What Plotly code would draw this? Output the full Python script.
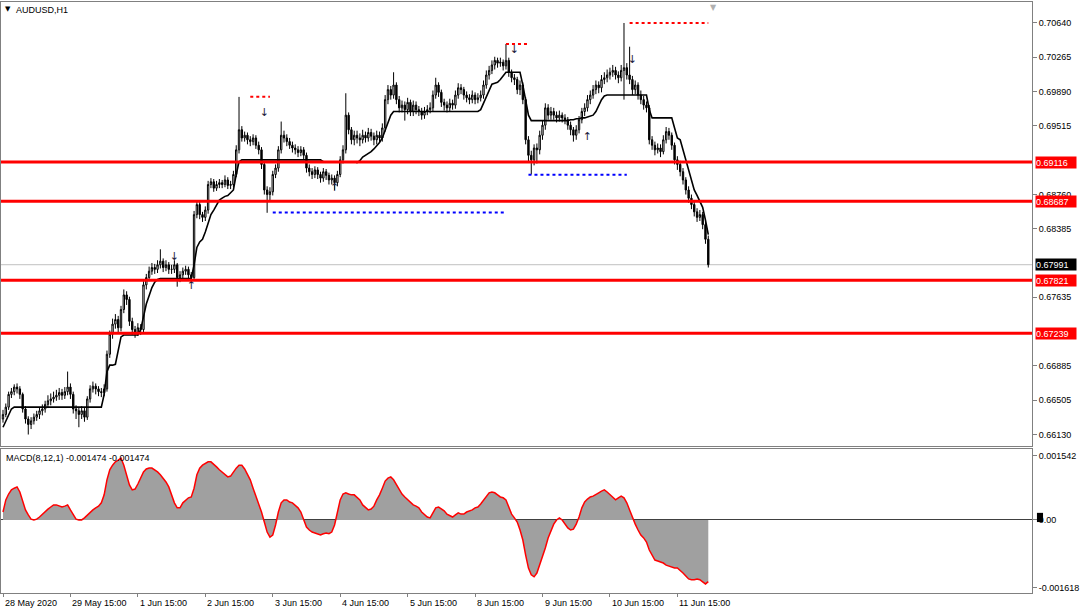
import plotly.graph_objects as go

# ---------------- data (AUDUSD H1) ----------------
tick_bars = [0, 24, 48, 72, 96, 120, 144, 168, 192, 216, 240]
tick_labels = ["28 May 2020", "29 May 15:00", "1 Jun 15:00", "2 Jun 15:00", "3 Jun 15:00",
               "4 Jun 15:00", "5 Jun 15:00", "8 Jun 15:00", "9 Jun 15:00", "10 Jun 15:00",
               "11 Jun 15:00"]

opens = [
0.6630,0.6635,0.6643,0.6657,0.6660,0.6665,0.6663,0.6657,0.6641,0.6630,
0.6624,0.6628,0.6632,0.6635,0.6639,0.6641,0.6646,0.6650,0.6652,0.6654,
0.6656,0.6659,0.6656,0.6660,0.6665,0.6657,0.6641,0.6639,0.6635,0.6639,
0.6632,0.6652,0.6663,0.6666,0.6663,0.6660,0.6659,0.6663,0.6701,0.6723,
0.6734,0.6739,0.6730,0.6750,0.6766,0.6761,0.6737,0.6728,0.6725,0.6730,
0.6728,0.6777,0.6785,0.6792,0.6796,0.6794,0.6799,0.6803,0.6796,0.6799,
0.6794,0.6794,0.6799,0.6785,0.6788,0.6792,0.6794,0.6788,0.6785,0.6854,
0.6865,0.6854,0.6851,0.6859,0.6887,0.6890,0.6883,0.6887,0.6889,0.6887,
0.6892,0.6886,0.6887,0.6898,0.6925,0.6947,0.6938,0.6941,0.6936,0.6934,
0.6938,0.6930,0.6925,0.6909,0.6881,0.6876,0.6879,0.6898,0.6905,0.6925,
0.6941,0.6938,0.6934,0.6930,0.6927,0.6925,0.6922,0.6925,0.6919,0.6905,
0.6901,0.6898,0.6903,0.6898,0.6894,0.6901,0.6897,0.6892,0.6894,0.6889,
0.6898,0.6914,0.6925,0.6963,0.6947,0.6936,0.6941,0.6938,0.6936,0.6941,
0.6938,0.6944,0.6940,0.6936,0.6941,0.6938,0.6949,0.6980,0.6991,0.6985,
0.6996,0.6980,0.6971,0.6974,0.6969,0.6977,0.6967,0.6974,0.6969,0.6967,
0.6963,0.6967,0.6969,0.6971,0.6985,0.6996,0.6988,0.6977,0.6974,0.6971,
0.6976,0.6974,0.6985,0.6993,0.6991,0.6985,0.6982,0.6980,0.6985,0.6980,
0.6982,0.6985,0.6996,0.7007,0.7012,0.7018,0.7023,0.7020,0.7021,0.7017,
0.7023,0.7010,0.7004,0.7002,0.6991,0.6996,0.6980,0.6936,0.6919,0.6914,
0.6927,0.6925,0.6941,0.6952,0.6971,0.6963,0.6967,0.6963,0.6960,0.6963,
0.6960,0.6958,0.6952,0.6947,0.6941,0.6947,0.6958,0.6967,0.6971,0.6980,
0.6985,0.6991,0.6996,0.6993,0.7002,0.7004,0.7007,0.7010,0.7012,0.7007,
0.7004,0.7012,0.7015,0.7007,0.7002,0.6991,0.6996,0.6985,0.6980,0.6974,
0.6971,0.6936,0.6930,0.6925,0.6927,0.6923,0.6936,0.6945,0.6941,0.6930,
0.6914,0.6909,0.6901,0.6892,0.6881,0.6872,0.6865,0.6857,0.6851,0.6854,
0.6843,0.6827]

highs = [
0.6640,0.6647,0.6660,0.6664,0.6668,0.6669,0.6666,0.6659,0.6644,0.6633,
0.6632,0.6636,0.6639,0.6643,0.6646,0.6650,0.6656,0.6658,0.6660,0.6662,
0.6664,0.6663,0.6665,0.6682,0.6669,0.6660,0.6645,0.6643,0.6644,0.6642,
0.6655,0.6667,0.6671,0.6669,0.6666,0.6664,0.6668,0.6705,0.6727,0.6740,
0.6745,0.6743,0.6754,0.6772,0.6770,0.6764,0.6741,0.6732,0.6735,0.6734,
0.6781,0.6789,0.6797,0.6801,0.6800,0.6804,0.6816,0.6806,0.6804,0.6802,
0.6799,0.6804,0.6801,0.6792,0.6796,0.6798,0.6797,0.6791,0.6858,0.6869,
0.6868,0.6857,0.6863,0.6891,0.6894,0.6893,0.6891,0.6893,0.6892,0.6897,
0.6895,0.6891,0.6902,0.6930,0.6983,0.6951,0.6945,0.6944,0.6940,0.6942,
0.6941,0.6934,0.6928,0.6912,0.6885,0.6884,0.6902,0.6909,0.6929,0.6956,
0.6946,0.6942,0.6938,0.6934,0.6931,0.6929,0.6929,0.6928,0.6922,0.6909,
0.6905,0.6907,0.6906,0.6901,0.6905,0.6904,0.6900,0.6898,0.6897,0.6902,
0.6918,0.6930,0.6987,0.6966,0.6950,0.6946,0.6946,0.6943,0.6947,0.6945,
0.6949,0.6948,0.6944,0.6946,0.6945,0.6954,0.6985,0.6996,0.6995,0.7010,
0.6999,0.6984,0.6979,0.6978,0.6982,0.6980,0.6979,0.6978,0.6973,0.6971,
0.6972,0.6974,0.6977,0.6990,0.7004,0.6999,0.6991,0.6981,0.6978,0.6981,
0.6980,0.6990,0.6998,0.6997,0.6994,0.6989,0.6986,0.6990,0.6988,0.6987,
0.6990,0.7001,0.7012,0.7017,0.7023,0.7027,0.7026,0.7026,0.7024,0.7041,
0.7026,0.7013,0.7008,0.7005,0.7001,0.6999,0.6983,0.6940,0.6924,0.6931,
0.6932,0.6946,0.6957,0.6976,0.6975,0.6972,0.6971,0.6967,0.6968,0.6966,
0.6964,0.6961,0.6956,0.6950,0.6952,0.6962,0.6971,0.6976,0.6985,0.6990,
0.6996,0.7001,0.7000,0.7007,0.7010,0.7013,0.7015,0.7018,0.7016,0.7011,
0.7018,0.7064,0.7020,0.7038,0.7006,0.7001,0.6999,0.6990,0.6984,0.6978,
0.6974,0.6940,0.6934,0.6932,0.6931,0.6941,0.6950,0.6949,0.6944,0.6933,
0.6918,0.6913,0.6905,0.6895,0.6885,0.6876,0.6869,0.6861,0.6859,0.6857,
0.6847,0.6831]

lows = [
0.6626,0.6632,0.6640,0.6653,0.6656,0.6658,0.6652,0.6637,0.6625,0.6613,
0.6619,0.6624,0.6628,0.6630,0.6634,0.6637,0.6642,0.6645,0.6648,0.6650,
0.6651,0.6651,0.6652,0.6656,0.6652,0.6636,0.6630,0.6621,0.6630,0.6627,
0.6629,0.6648,0.6659,0.6657,0.6655,0.6654,0.6655,0.6660,0.6697,0.6718,
0.6729,0.6725,0.6726,0.6746,0.6755,0.6732,0.6722,0.6719,0.6721,0.6722,
0.6725,0.6772,0.6781,0.6788,0.6789,0.6790,0.6795,0.6791,0.6792,0.6789,
0.6789,0.6790,0.6775,0.6780,0.6784,0.6788,0.6783,0.6779,0.6782,0.6850,
0.6849,0.6846,0.6847,0.6855,0.6883,0.6879,0.6880,0.6883,0.6883,0.6884,
0.6882,0.6882,0.6884,0.6895,0.6921,0.6934,0.6934,0.6931,0.6929,0.6930,
0.6926,0.6920,0.6904,0.6876,0.6856,0.6870,0.6875,0.6894,0.6901,0.6921,
0.6933,0.6929,0.6926,0.6922,0.6920,0.6917,0.6918,0.6914,0.6900,0.6896,
0.6893,0.6894,0.6893,0.6889,0.6890,0.6892,0.6887,0.6887,0.6881,0.6885,
0.6895,0.6910,0.6921,0.6942,0.6931,0.6930,0.6932,0.6929,0.6932,0.6933,
0.6934,0.6935,0.6930,0.6931,0.6933,0.6934,0.6945,0.6975,0.6980,0.6981,
0.6975,0.6966,0.6966,0.6957,0.6964,0.6962,0.6962,0.6964,0.6962,0.6958,
0.6959,0.6963,0.6965,0.6967,0.6981,0.6983,0.6972,0.6968,0.6966,0.6967,
0.6969,0.6970,0.6981,0.6986,0.6980,0.6977,0.6975,0.6976,0.6975,0.6976,
0.6978,0.6981,0.6992,0.7002,0.7008,0.7013,0.7015,0.7016,0.7012,0.7013,
0.7005,0.6999,0.6996,0.6986,0.6985,0.6975,0.6931,0.6912,0.6898,0.6908,
0.6910,0.6920,0.6936,0.6947,0.6958,0.6958,0.6958,0.6955,0.6956,0.6955,
0.6953,0.6947,0.6941,0.6934,0.6936,0.6943,0.6954,0.6962,0.6967,0.6975,
0.6981,0.6986,0.6987,0.6988,0.6997,0.6999,0.7002,0.7005,0.7002,0.6998,
0.7000,0.6980,0.7002,0.6997,0.6985,0.6986,0.6980,0.6975,0.6969,0.6966,
0.6931,0.6925,0.6919,0.6921,0.6917,0.6920,0.6932,0.6936,0.6925,0.6909,
0.6903,0.6896,0.6887,0.6876,0.6867,0.6860,0.6852,0.6846,0.6847,0.6838,
0.6822,0.6796]

closes = [
0.6635,0.6643,0.6657,0.6660,0.6665,0.6663,0.6657,0.6641,0.6630,0.6624,
0.6628,0.6632,0.6635,0.6639,0.6641,0.6646,0.6650,0.6652,0.6654,0.6656,
0.6659,0.6656,0.6660,0.6665,0.6657,0.6641,0.6639,0.6635,0.6639,0.6632,
0.6652,0.6663,0.6666,0.6663,0.6660,0.6659,0.6663,0.6701,0.6723,0.6734,
0.6739,0.6730,0.6750,0.6766,0.6761,0.6737,0.6728,0.6725,0.6730,0.6728,
0.6777,0.6785,0.6792,0.6796,0.6794,0.6799,0.6803,0.6796,0.6799,0.6794,
0.6794,0.6799,0.6785,0.6788,0.6792,0.6794,0.6788,0.6785,0.6854,0.6865,
0.6854,0.6851,0.6859,0.6887,0.6890,0.6883,0.6887,0.6889,0.6887,0.6892,
0.6886,0.6887,0.6898,0.6925,0.6947,0.6938,0.6941,0.6936,0.6934,0.6938,
0.6930,0.6925,0.6909,0.6881,0.6876,0.6879,0.6898,0.6905,0.6925,0.6941,
0.6938,0.6934,0.6930,0.6927,0.6925,0.6922,0.6925,0.6919,0.6905,0.6901,
0.6898,0.6903,0.6898,0.6894,0.6901,0.6897,0.6892,0.6894,0.6889,0.6898,
0.6914,0.6925,0.6963,0.6947,0.6936,0.6941,0.6938,0.6936,0.6941,0.6938,
0.6944,0.6940,0.6936,0.6941,0.6938,0.6949,0.6980,0.6991,0.6985,0.6996,
0.6980,0.6971,0.6974,0.6969,0.6977,0.6967,0.6974,0.6969,0.6967,0.6963,
0.6967,0.6969,0.6971,0.6985,0.6996,0.6988,0.6977,0.6974,0.6971,0.6976,
0.6974,0.6985,0.6993,0.6991,0.6985,0.6982,0.6980,0.6985,0.6980,0.6982,
0.6985,0.6996,0.7007,0.7012,0.7018,0.7023,0.7020,0.7021,0.7017,0.7023,
0.7010,0.7004,0.7002,0.6991,0.6996,0.6980,0.6936,0.6919,0.6914,0.6927,
0.6925,0.6941,0.6952,0.6971,0.6963,0.6967,0.6963,0.6960,0.6963,0.6960,
0.6958,0.6952,0.6947,0.6941,0.6947,0.6958,0.6967,0.6971,0.6980,0.6985,
0.6991,0.6996,0.6993,0.7002,0.7004,0.7007,0.7010,0.7012,0.7007,0.7004,
0.7012,0.7015,0.7007,0.7002,0.6991,0.6996,0.6985,0.6980,0.6974,0.6971,
0.6936,0.6930,0.6925,0.6927,0.6923,0.6936,0.6945,0.6941,0.6930,0.6914,
0.6909,0.6901,0.6892,0.6881,0.6872,0.6865,0.6857,0.6851,0.6854,0.6843,
0.6827,0.67991]

trail_line = [
0.6621,0.6628,0.6635,0.6641,0.6643,0.6643,0.6643,0.6643,0.6643,0.6643,
0.6643,0.6643,0.6643,0.6643,0.6643,0.6643,0.6643,0.6643,0.6643,0.6643,
0.6643,0.6643,0.6643,0.6643,0.6643,0.6643,0.6643,0.6643,0.6643,0.6643,
0.6643,0.6643,0.6643,0.6643,0.6643,0.6643,0.6657,0.6682,0.6689,0.6689,
0.6690,0.6704,0.6720,0.6722,0.6722,0.6722,0.6722,0.6722,0.6722,0.6728,
0.6741,0.6756,0.6765,0.6774,0.6780,0.6783,0.6784,0.6784,0.6784,0.6784,
0.6784,0.6784,0.6784,0.6784,0.6784,0.6784,0.6784,0.6784,0.6799,0.6818,
0.6824,0.6827,0.6835,0.6846,0.6854,0.6859,0.6865,0.6870,0.6872,0.6874,
0.6875,0.6878,0.6881,0.6898,0.6912,0.6914,0.6914,0.6914,0.6914,0.6914,
0.6914,0.6914,0.6914,0.6914,0.6914,0.6914,0.6914,0.6914,0.6914,0.6914,
0.6914,0.6914,0.6914,0.6914,0.6914,0.6914,0.6914,0.6914,0.6914,0.6914,
0.6914,0.6914,0.6914,0.6914,0.6912,0.6912,0.6912,0.6912,0.6912,0.6912,
0.6912,0.6912,0.6912,0.6912,0.6912,0.6912,0.6911,0.6913,0.6917,0.6919,
0.6921,0.6923,0.6926,0.6929,0.6933,0.6938,0.6947,0.6956,0.6963,0.6967,
0.6967,0.6967,0.6967,0.6967,0.6967,0.6967,0.6967,0.6967,0.6967,0.6967,
0.6967,0.6967,0.6967,0.6967,0.6967,0.6967,0.6967,0.6967,0.6967,0.6967,
0.6967,0.6967,0.6967,0.6967,0.6967,0.6967,0.6967,0.6967,0.6967,0.6967,
0.6969,0.6976,0.6983,0.6991,0.6997,0.6998,0.6999,0.7002,0.7006,0.7010,
0.7010,0.7010,0.7010,0.7010,0.7010,0.6996,0.6980,0.6963,0.6957,0.6957,
0.6957,0.6957,0.6957,0.6957,0.6957,0.6957,0.6957,0.6957,0.6957,0.6957,
0.6957,0.6957,0.6958,0.6958,0.6959,0.6959,0.6960,0.6960,0.6961,0.6962,
0.6963,0.6967,0.6973,0.6980,0.6984,0.6985,0.6985,0.6985,0.6985,0.6985,
0.6985,0.6985,0.6985,0.6985,0.6985,0.6985,0.6985,0.6985,0.6985,0.6985,
0.6969,0.6960,0.6960,0.6960,0.6960,0.6960,0.6960,0.6960,0.6960,0.6949,
0.6938,0.6936,0.6925,0.6914,0.6901,0.6890,0.6881,0.6875,0.6868,0.6862,
0.6848,0.6832]

macd = [
0.00019,0.00048,0.00062,0.00072,0.00076,0.00079,0.00067,0.00043,0.00024,0.00012,
0.00002,0.0,0.00002,0.00007,0.00014,0.00019,0.00026,0.00031,0.00036,0.00036,
0.00033,0.00031,0.00033,0.00036,0.00024,0.00012,0.00002,0.0,0.0,0.00005,
0.00012,0.00019,0.00024,0.00029,0.00033,0.00041,0.00060,0.00096,0.00120,0.00131,
0.00139,0.00143,0.00148,0.00131,0.00108,0.00084,0.00072,0.00074,0.00086,0.00100,
0.00115,0.00122,0.00124,0.00124,0.00120,0.00115,0.00108,0.00100,0.00091,0.00079,
0.00060,0.00041,0.00029,0.00029,0.00041,0.00048,0.00053,0.00055,0.00076,0.00108,
0.00124,0.00131,0.00136,0.00139,0.00139,0.00134,0.00127,0.00120,0.00115,0.00108,
0.00103,0.00105,0.00115,0.00124,0.00131,0.00131,0.00122,0.00108,0.00096,0.00076,
0.00057,0.00043,0.00019,-0.00005,-0.00029,-0.00041,-0.00036,-0.00012,0.00019,0.00041,
0.00048,0.00048,0.00043,0.00041,0.00036,0.00029,0.00019,0.0,-0.00017,-0.00024,
-0.00029,-0.00031,-0.00033,-0.00036,-0.00033,-0.00031,-0.00033,-0.00029,-0.00012,0.00019,
0.00048,0.00062,0.00065,0.00062,0.00060,0.00060,0.00055,0.00048,0.00036,0.00029,
0.00024,0.00026,0.00033,0.00048,0.00060,0.00076,0.00093,0.00100,0.00103,0.00096,
0.00084,0.00072,0.00062,0.00055,0.00048,0.00041,0.00036,0.00033,0.00029,0.00019,
0.00012,0.00007,0.00005,0.00017,0.00029,0.00031,0.00026,0.00022,0.00014,0.00010,
0.00007,0.00012,0.00017,0.00014,0.00014,0.00019,0.00022,0.00024,0.00029,0.00031,
0.00038,0.00048,0.00057,0.00065,0.00067,0.00065,0.00060,0.00055,0.00053,0.00048,
0.00031,0.00014,0.00005,-0.00005,-0.00024,-0.00048,-0.00084,-0.00115,-0.00131,-0.00136,
-0.00127,-0.00108,-0.00086,-0.00067,-0.00043,-0.00024,-0.00010,0.0,0.00005,0.0,
-0.00010,-0.00019,-0.00024,-0.00022,-0.00010,0.00007,0.00029,0.00043,0.00050,0.00055,
0.00057,0.00062,0.00065,0.00069,0.00072,0.00067,0.00060,0.00053,0.00048,0.00053,
0.00057,0.00053,0.00041,0.00024,0.00005,-0.00010,-0.00024,-0.00036,-0.00043,-0.00053,
-0.00072,-0.00086,-0.00096,-0.00098,-0.00100,-0.00103,-0.00108,-0.00110,-0.00112,-0.00115,
-0.00115,-0.00120,-0.00127,-0.00134,-0.00141,-0.00143,-0.00143,-0.00141,-0.00143,-0.00148,
-0.00153,-0.001474]

level_prices = [0.69116, 0.68687, 0.67821, 0.67239]
current_price = 0.67991

frac_prices = [0.69831, 0.68563, 0.70410, 0.68978, 0.70640]
frac_start = [88, 96, 179, 187, 223]
frac_end = [95, 179, 187, 222, 251]
frac_colors = ["#ff0000", "#0000ff", "#ff0000", "#0000ff", "#ff0000"]

arrow_up_bars = [67, 118, 208]
arrow_up_prices = [0.6776, 0.6883, 0.6939]
arrow_dn_bars = [61, 93, 182, 224]
arrow_dn_prices = [0.6807, 0.6965, 0.7034, 0.7023]

price_ticks = [0.70640, 0.70265, 0.69890, 0.69515, 0.68760, 0.68385, 0.67635, 0.66885, 0.66505, 0.66130]
macd_ticks = [0.001542, 0.0, -0.001618]
macd_tick_text = ["0.001542", "0.00", "-0.001618"]

# ---------------- figure ----------------
bars = list(range(len(closes)))
x_range = [-0.71, 366.2]
FONT = "Liberation Sans, Arial, sans-serif"

fig = go.Figure()

fig.add_trace(go.Candlestick(
    x=bars, open=opens, high=highs, low=lows, close=closes,
    increasing=dict(line=dict(color="#000000", width=1), fillcolor="#ffffff"),
    decreasing=dict(line=dict(color="#000000", width=1), fillcolor="#000000"),
    whiskerwidth=0, xaxis="x", yaxis="y", showlegend=False, hoverinfo="skip"))

fig.add_trace(go.Scatter(x=bars, y=trail_line, mode="lines",
                         line=dict(color="#000000", width=1.6),
                         xaxis="x", yaxis="y", showlegend=False, hoverinfo="skip"))

for p, s, e, c in zip(frac_prices, frac_start, frac_end, frac_colors):
    fig.add_trace(go.Scatter(x=[s, e], y=[p, p], mode="lines",
                             line=dict(color=c, width=2, dash="dot"),
                             xaxis="x", yaxis="y", showlegend=False, hoverinfo="skip"))

fig.add_trace(go.Scatter(x=arrow_up_bars, y=arrow_up_prices, mode="text",
                         text=["\u2191"] * len(arrow_up_bars),
                         textfont=dict(family="DejaVu Sans", size=11, color="#1c1c3c"),
                         xaxis="x", yaxis="y", showlegend=False, hoverinfo="skip"))
fig.add_trace(go.Scatter(x=arrow_dn_bars, y=arrow_dn_prices, mode="text",
                         text=["\u2193"] * len(arrow_dn_bars),
                         textfont=dict(family="DejaVu Sans", size=11, color="#1c1c3c"),
                         xaxis="x", yaxis="y", showlegend=False, hoverinfo="skip"))

fig.add_trace(go.Scatter(x=bars, y=macd, mode="lines", fill="tozeroy",
                         fillcolor="#a0a0a0", line=dict(color="#ff0000", width=1.5),
                         xaxis="x2", yaxis="y2", showlegend=False, hoverinfo="skip"))

shapes = []
shapes.append(dict(type="line", xref="paper", yref="y", x0=0, x1=1,
                   y0=current_price, y1=current_price, layer="below",
                   line=dict(color="#c0c0c0", width=1)))
for lv in level_prices:
    shapes.append(dict(type="line", xref="paper", yref="y", x0=0, x1=1,
                       y0=lv, y1=lv, line=dict(color="#ff0000", width=3)))
# small current-value marker on the MACD scale
shapes.append(dict(type="rect", xref="paper", yref="y2", x0=1.0048, x1=1.0107,
                   y0=-0.00005, y1=0.00017, line=dict(width=0), fillcolor="#000000"))

annotations = []
for lv in level_prices:
    annotations.append(dict(x=1, xref="paper", y=lv, yref="y", xanchor="left",
                            yanchor="middle", xshift=3, text=f"{lv:.5f}",
                            showarrow=False, bgcolor="#ff0000", width=40, height=11,
                            align="left", borderpad=0,
                            font=dict(family=FONT, size=9, color="#ffffff")))
annotations.append(dict(x=1, xref="paper", y=current_price, yref="y", xanchor="left",
                        yanchor="middle", xshift=3, text=f"{current_price:.5f}",
                        showarrow=False, bgcolor="#000000", width=40, height=11,
                        align="left", borderpad=0,
                        font=dict(family=FONT, size=9, color="#ffffff")))

for tb, tl in zip(tick_bars, tick_labels):
    annotations.append(dict(x=tb, xref="x2", y=0, yref="paper", xanchor="left",
                            yanchor="top", yshift=-3, text=tl, showarrow=False,
                            font=dict(family=FONT, size=9, color="#000000")))

annotations.append(dict(x=0, xref="paper", y=1, yref="paper", xanchor="left",
                        yanchor="top", xshift=2, yshift=-1, text="\u25bc",
                        showarrow=False, font=dict(family="DejaVu Sans", size=7, color="#000000")))
annotations.append(dict(x=0, xref="paper", y=1, yref="paper", xanchor="left",
                        yanchor="top", xshift=13, yshift=-1, text="AUDUSD,H1",
                        showarrow=False, font=dict(family=FONT, size=9, color="#000000")))
annotations.append(dict(x=0.6906, xref="paper", y=1, yref="paper", xanchor="center",
                        yanchor="top", yshift=1, text="\u25bc",
                        showarrow=False, font=dict(family="DejaVu Sans", size=8, color="#b0b0b0")))
annotations.append(dict(x=0, xref="paper", y=0.2437, yref="paper", xanchor="left",
                        yanchor="top", xshift=3, yshift=-2,
                        text="MACD(8,12,1) -0.001474 -0.001474", showarrow=False,
                        font=dict(family=FONT, size=9, color="#000000")))

axis_common = dict(showgrid=False, zeroline=False, showline=True, mirror=True,
                   linecolor="#808080", linewidth=1)

fig.update_layout(
    width=1080, height=609,
    margin=dict(l=1, r=48, t=2, b=16),
    paper_bgcolor="#ffffff", plot_bgcolor="#ffffff",
    showlegend=False,
    font=dict(family=FONT, size=9, color="#000000"),
    xaxis=dict(domain=[0, 1], anchor="y", range=x_range, showticklabels=False,
               ticks="", rangeslider=dict(visible=False), **axis_common),
    yaxis=dict(domain=[0.2487, 1], anchor="x", side="right", range=[0.66004, 0.70870],
               tickvals=price_ticks, ticktext=[f"{v:.5f}" for v in price_ticks],
               ticks="outside", ticklen=4, tickcolor="#808080",
               tickfont=dict(family=FONT, size=9, color="#000000"), **axis_common),
    xaxis2=dict(domain=[0, 1], anchor="y2", range=x_range, tickvals=tick_bars,
                ticktext=[""] * len(tick_bars), ticks="outside", ticklen=3,
                tickcolor="#808080", **axis_common),
    yaxis2=dict(domain=[0, 0.2437], anchor="x2", side="right",
                range=[-0.001747, 0.001698], tickvals=macd_ticks, ticktext=macd_tick_text,
                ticks="outside", ticklen=4, tickcolor="#808080",
                tickfont=dict(family=FONT, size=9, color="#000000"),
                showgrid=False, zeroline=True, zerolinecolor="#404040", zerolinewidth=1,
                showline=True, mirror=True, linecolor="#808080", linewidth=1),
    shapes=shapes,
    annotations=annotations,
)

fig.write_html("out.html",
               config={"displayModeBar": False, "staticPlot": True},
               post_script="document.body.style.margin='0';document.body.style.overflow='hidden';")
